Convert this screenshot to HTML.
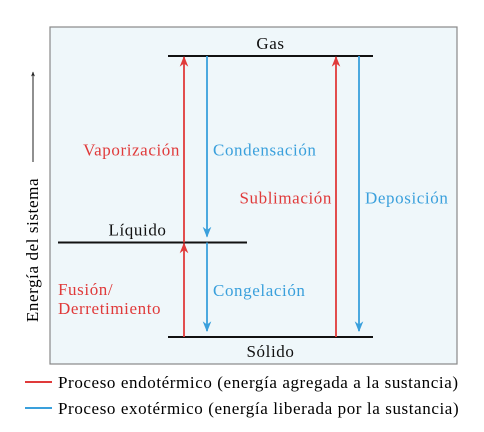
<!DOCTYPE html>
<html><head><meta charset="utf-8"><style>
body{margin:0;background:#fff;width:484px;height:427px;overflow:hidden}
text{font-family:"Liberation Serif",serif;font-size:17px;letter-spacing:0.6px}
</style></head><body>
<svg width="484" height="427">
<defs>
<marker id="ar" viewBox="0 0 10 10" refX="9" refY="5" markerWidth="6" markerHeight="7" orient="auto-start-reverse"><path d="M0,1 L10,5 L0,9 L3,5Z" fill="#e03a3a"/></marker>
<marker id="ab" viewBox="0 0 10 10" refX="9" refY="5" markerWidth="6" markerHeight="7" orient="auto-start-reverse"><path d="M0,1 L10,5 L0,9 L3,5Z" fill="#3aa0dc"/></marker>
<marker id="ak" viewBox="0 0 10 10" refX="9" refY="5" markerWidth="5" markerHeight="6" orient="auto"><path d="M0,1 L10,5 L0,9 L3,5Z" fill="#222"/></marker>
</defs>
<rect x="50" y="27" width="407" height="337" fill="#eff7fa" stroke="#888" stroke-width="1.2"/>
<line x1="33" y1="162" x2="33" y2="72" stroke="#222" stroke-width="1" marker-end="url(#ak)"/>
<text transform="translate(38,250) rotate(-90)" text-anchor="middle">Energía del sistema</text>
<g id="g"></g>
<line x1="25" y1="382" x2="52" y2="382" stroke="#e03a3a" stroke-width="2"/>
<text x="58" y="388">Proceso endotérmico (energía agregada a la sustancia)</text>
<line x1="25" y1="408" x2="52" y2="408" stroke="#3aa0dc" stroke-width="2"/>
<text x="58" y="414">Proceso exotérmico (energía liberada por la sustancia)</text>
</svg>
<script>
const levelNames=["Sólido","Líquido","Gas"];
const levelEnergy=[0,0.79,2.35];
const levelX1=[168,58,168], levelX2=[373,247,373];
const processNames=["Fusión/Derretimiento","Congelación","Vaporización","Condensación","Sublimación","Deposición"];
const processFrom=[0,1,1,2,0,2];
const processTo=[1,0,2,1,2,0];
const processEndo=[true,false,true,false,true,false];
const processX=[184,207,184,207,336,359];
const ns="http://www.w3.org/2000/svg";
const g=document.getElementById("g");
const y=e=>337-e*(337-56)/2.35;
function mk(t,a){const el=document.createElementNS(ns,t);for(const k in a)el.setAttribute(k,a[k]);g.appendChild(el);return el;}
levelNames.forEach((n,i)=>{
 const l=mk("line",{x1:levelX1[i],x2:levelX2[i],y1:y(levelEnergy[i]),y2:y(levelEnergy[i]),stroke:"#111","stroke-width":2});
 
 
 const cx=(levelX1[i]+levelX2[i])/2+(i==1?-15:0);
 const ty=i==0?y(levelEnergy[i])+20:y(levelEnergy[i])-7;
 const t=mk("text",{x:cx,y:ty,"text-anchor":"middle",fill:"#111"});t.textContent=n;
 
 
});
processNames.forEach((n,i)=>{
 const c=processEndo[i]?"#e03a3a":"#3aa0dc";
 const y1=y(levelEnergy[processFrom[i]]),y2=y(levelEnergy[processTo[i]]);
 const l=mk("line",{x1:processX[i],x2:processX[i],y1:y1,y2:processEndo[i]?y2+1:y2-6,stroke:c,"stroke-width":1.8,"marker-end":processEndo[i]?"url(#ar)":"url(#ab)"});
 
 
 const my=(y1+y2)/2+6;
 const t=mk("text",{fill:c,"text-anchor":processEndo[i]?"end":"start"});
 
 
 if(i==0){t.setAttribute("text-anchor","start");t.setAttribute("x",58);t.setAttribute("y",my-1);
   t.innerHTML='<tspan x="58">Fusión/</tspan><tspan x="58" dy="19">Derretimiento</tspan>';}
 else{t.setAttribute("x",processEndo[i]?processX[i]-4:processX[i]+6);t.setAttribute("y",i>=4?my+1:my);t.textContent=n;}
});
</script>
</body></html>
